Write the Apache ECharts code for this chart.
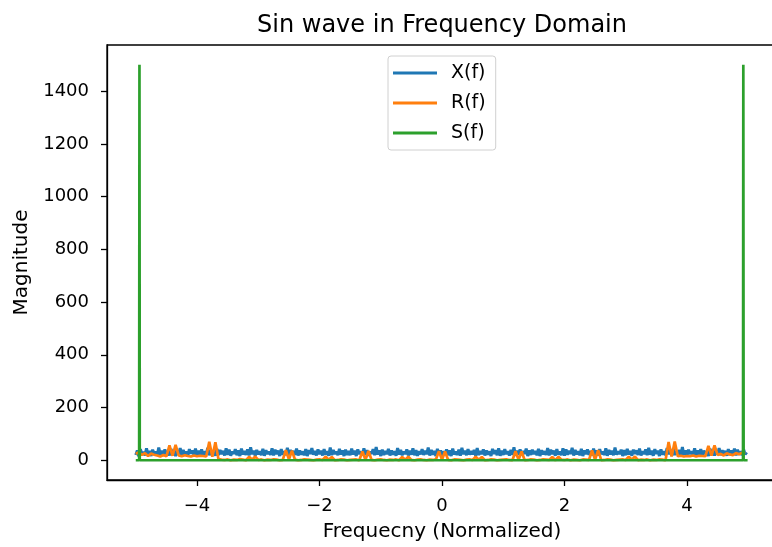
<!DOCTYPE html>
<html lang="en">
<head>
    <meta charset="UTF-8">
    <title>Sin wave in Frequency Domain</title>
    <script src="https://cdn.jsdelivr.net/npm/echarts@6/dist/echarts.min.js"></script>
    <style>
        html, body { margin: 0; padding: 0; background: #fff; overflow: hidden; }
        /* a little wider than the window: the right spine falls just off-picture, as in the original */
        #chartmain { width: 780px; height: 547px; }
    </style>
</head>
<body>
<div id="chartmain"></div>
<script type="text/javascript">
    // frequency grids (normalized)
    var fStart = -5.0;
    var xStep = 0.025;   // X(f) samples
    var rStep = 0.05;    // R(f) samples

    // X(f) magnitude
    var xMag = [
        20, 37, 15, 42, 23, 32, 18, 45, 21, 35, 16, 40, 25, 33, 19, 48, 22, 36, 17, 41,
        24, 34, 18, 43, 20, 38, 16, 35, 23, 46, 19, 39, 22, 33, 17, 42, 25, 37, 20, 44,
        18, 36, 22, 41, 16, 34, 21, 47, 19, 38, 24, 32, 17, 43, 20, 39, 23, 35, 18, 45,
        21, 40, 17, 33, 24, 42, 19, 37, 16, 44, 22, 35, 20, 41, 18, 49, 23, 36, 17, 39,
        22, 34, 19, 43, 17, 38, 24, 33, 20, 45, 18, 40, 23, 36, 16, 42, 21, 34, 19, 47,
        17, 39, 23, 35, 20, 44, 18, 37, 22, 33, 19, 42, 16, 38, 24, 46, 21, 35, 18, 41,
        23, 36, 18, 42, 21, 34, 17, 48, 20, 39, 24, 33, 19, 43, 22, 37, 16, 40, 20, 35,
        19, 44, 22, 36, 16, 41, 23, 34, 18, 45, 21, 38, 17, 33, 24, 42, 19, 50, 22, 37,
        16, 40, 20, 35, 23, 43, 18, 37, 21, 34, 17, 46, 22, 39, 19, 33, 24, 41, 18, 36,
        21, 45, 19, 38, 17, 34, 22, 42, 20, 36, 23, 48, 18, 39, 21, 35, 16, 43, 23, 37,
        18, 34, 24, 41, 19, 37, 16, 44, 22, 33, 20, 40, 17, 47, 23, 36, 19, 42, 21, 35,
        22, 39, 17, 46, 20, 35, 23, 41, 18, 37, 21, 33, 16, 43, 24, 38, 19, 45, 17, 36,
        20, 42, 23, 34, 18, 39, 21, 49, 17, 36, 22, 41, 19, 35, 24, 44, 16, 37, 20, 40,
        23, 35, 19, 43, 16, 38, 22, 34, 20, 46, 18, 40, 23, 36, 17, 42, 21, 33, 19, 45,
        17, 41, 21, 36, 24, 47, 18, 39, 22, 34, 19, 43, 16, 37, 23, 41, 20, 35, 18, 44,
        21, 37, 18, 42, 23, 33, 20, 45, 17, 39, 22, 36, 19, 48, 21, 34, 24, 40, 16, 38,
        19, 43, 22, 35, 17, 40, 24, 37, 20, 44, 18, 34, 23, 41, 19, 47, 21, 36, 17, 42,
        24, 36, 16, 41, 21, 34, 19, 46, 23, 38, 17, 43, 20, 35, 22, 39, 18, 50, 21, 37,
        18, 40, 23, 34, 20, 45, 17, 37, 22, 42, 19, 36, 24, 33, 16, 44, 21, 39, 18, 35,
        22, 46, 19, 38, 24, 35, 17, 42, 20, 37, 23, 44, 18, 40, 21, 34, 19, 41, 22, 30
    ];

    // R(f) magnitude
    var rMag = [
        24, 30, 20, 27, 16, 25, 21, 18, 14, 20, 15, 56, 17, 58, 18, 15, 19, 16, 14, 18,
        15, 17, 16, 14, 70, 13, 68, 4, 2, 1, 3, 0, 2, 1, 4, 2, 0, 13, 2, 14,
        1, 3, 0, 2, 1, 3, 2, 0, 1, 38, 3, 36, 2, 0, 1, 3, 2, 1, 0, 2,
        3, 1, 13, 2, 12, 0, 1, 3, 2, 0, 1, 2, 3, 0, 33, 2, 35, 1, 0, 2,
        3, 1, 0, 2, 1, 3, 0, 12, 2, 13, 1, 0, 2, 3, 1, 0, 2, 1, 3, 34,
        2, 33, 1, 0, 3, 2, 1, 0, 2, 3, 1, 13, 2, 12, 0, 1, 3, 2, 0, 1,
        2, 3, 1, 0, 34, 2, 33, 0, 1, 3, 2, 0, 1, 3, 2, 1, 12, 0, 13, 2,
        1, 3, 0, 2, 1, 0, 3, 2, 1, 37, 2, 38, 0, 1, 3, 2, 0, 1, 2, 3,
        1, 13, 2, 14, 0, 2, 1, 3, 0, 2, 1, 3, 2, 0, 69, 14, 71, 15, 17, 14,
        16, 15, 18, 14, 17, 16, 15, 54, 18, 56, 20, 24, 18, 26, 22, 19, 27, 23, 28, 25
    ];

    // S(f): pure tone, two lines
    var sFreq = [-5.0, -4.945, -4.94, -4.935, 4.915, 4.92, 4.925, 4.99];
    var sMag = [0, 0, 1500, 0, 0, 1500, 0, 0];

    var yTicks = [0, 200, 400, 600, 800, 1000, 1200, 1400];
    var xTicks = [-4, -2, 0, 2, 4];

    function pairs(fx, ys) {
        var out = [];
        for (var i = 0; i < ys.length; i++) {
            out.push([fx(i), ys[i]]);
        }
        return out;
    }

    var myChart = echarts.init(document.getElementById('chartmain'));
    var font = 'DejaVu Sans';
    var option = {
        animation: false,
        backgroundColor: '#fff',
        title: {
            text: 'Sin wave in Frequency Domain',
            left: 442,
            top: 14,
            padding: 0,
            textAlign: 'center',
            textStyle: { fontFamily: font, fontSize: 24, fontWeight: 'normal', color: '#000' }
        },
        legend: {
            orient: 'vertical',
            left: 388,
            top: 56,
            padding: [7, 10, 7, 5],
            itemGap: 10,
            itemWidth: 44,
            itemHeight: 3,
            icon: 'rect',
            borderColor: '#d0d0d0',
            borderWidth: 1,
            borderRadius: 3,
            backgroundColor: '#fff',
            textStyle: { fontFamily: font, fontSize: 19, color: '#000', lineHeight: 20, padding: [0, 0, 0, 9] },
            data: ['X(f)', 'R(f)', 'S(f)']
        },
        grid: {
            left: 107,
            top: 45,
            right: 3,
            bottom: 65,
            show: true,
            borderColor: '#000',
            borderWidth: 1.3,
            containLabel: false
        },
        xAxis: {
            type: 'value',
            min: -5.47,
            max: 5.47,
            name: 'Frequecny (Normalized)',
            nameLocation: 'middle',
            nameGap: 42,
            nameTextStyle: { fontFamily: font, fontSize: 20, color: '#000' },
            axisLine: { show: true, onZero: false, lineStyle: { color: '#000', width: 1.3 } },
            axisTick: { show: true, length: 6, lineStyle: { color: '#000', width: 1.3 }, customValues: xTicks },
            axisLabel: {
                fontFamily: font, fontSize: 18, color: '#000', margin: 17,
                customValues: xTicks,
                formatter: function (v) { return String(v).replace('-', '\u2212'); }
            },
            splitLine: { show: false }
        },
        yAxis: {
            type: 'value',
            min: -75,
            max: 1575,
            name: 'Magnitude',
            nameLocation: 'middle',
            nameGap: 69,
            nameTextStyle: { fontFamily: font, fontSize: 20, color: '#000' },
            axisLine: { show: true, onZero: false, lineStyle: { color: '#000', width: 1.3 } },
            axisTick: { show: true, length: 6, lineStyle: { color: '#000', width: 1.3 }, customValues: yTicks },
            axisLabel: {
                fontFamily: font, fontSize: 18, color: '#000', margin: 18,
                customValues: yTicks,
                formatter: function (v) { return String(v); }
            },
            splitLine: { show: false }
        },
        series: [
            {
                name: 'X(f)', type: 'line', showSymbol: false, symbol: 'none',
                data: pairs(function (i) { return fStart + i * xStep; }, xMag),
                itemStyle: { color: '#1f77b4' },
                lineStyle: { color: '#1f77b4', width: 3 }
            },
            {
                name: 'R(f)', type: 'line', showSymbol: false, symbol: 'none',
                data: pairs(function (i) { return fStart + i * rStep; }, rMag),
                itemStyle: { color: '#ff7f0e' },
                lineStyle: { color: '#ff7f0e', width: 2.7 }
            },
            {
                name: 'S(f)', type: 'line', showSymbol: false, symbol: 'none',
                data: pairs(function (i) { return sFreq[i]; }, sMag),
                itemStyle: { color: '#2ca02c' },
                lineStyle: { color: '#2ca02c', width: 2.7 }
            }
        ]
    };
    myChart.setOption(option);
</script>
</body>
</html>
